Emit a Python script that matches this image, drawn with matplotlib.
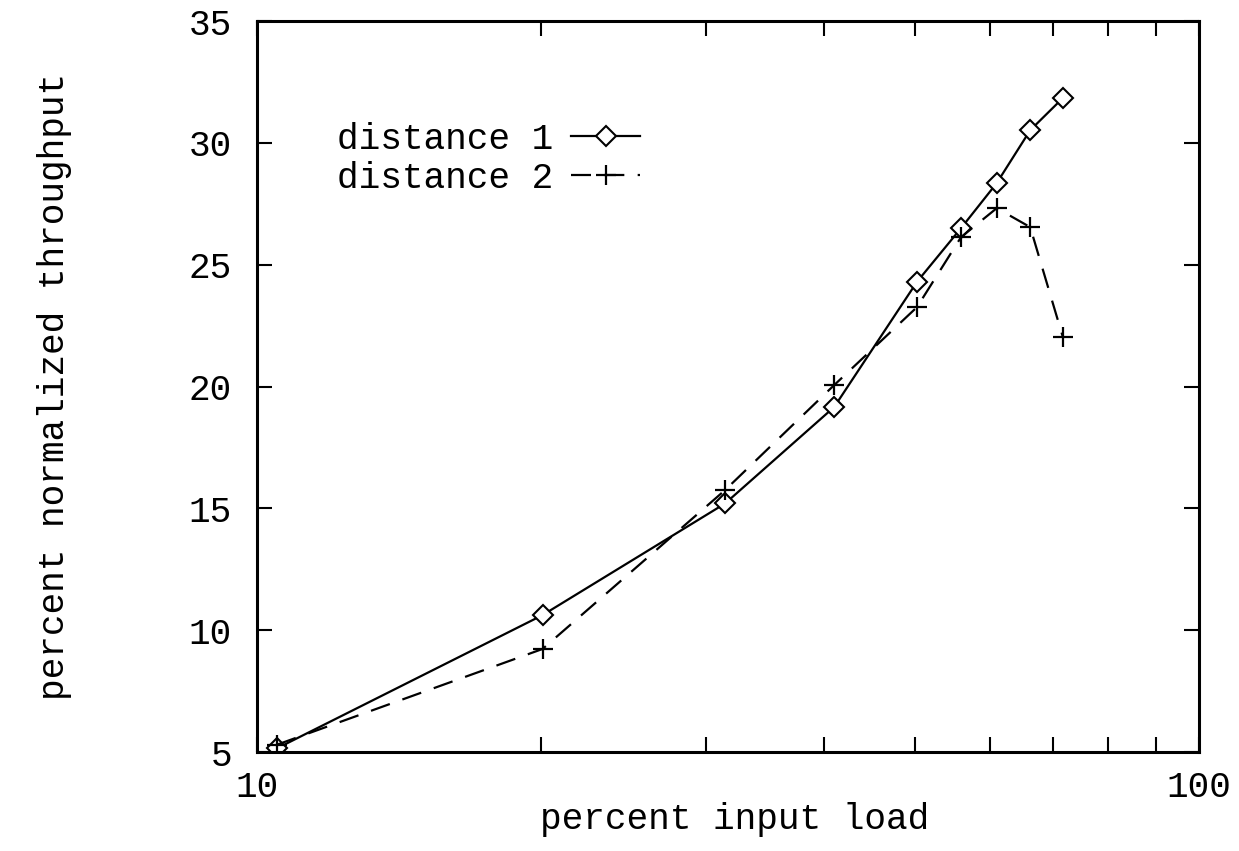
import matplotlib.pyplot as plt
from matplotlib.ticker import FixedLocator, NullFormatter, FixedFormatter

plt.rcParams['font.family'] = ['Liberation Mono', 'DejaVu Sans Mono']

# percent input load (x) and throughput for each distance
load = [10.5, 20.1, 31.4, 41.0, 50.2, 55.9, 61.0, 66.2, 71.7]
dist1 = [5.15, 10.62, 15.2, 19.16, 24.3, 26.5, 28.35, 30.52, 31.84]
dist2 = [5.3, 9.23, 15.75, 20.06, 23.26, 26.13, 27.32, 26.54, 22.03]

yticks = [5, 10, 15, 20, 25, 30, 35]
xticks = [10, 100]
xminor = [20, 30, 40, 50, 60, 70, 80, 90]

fs = 26

fig = plt.figure(figsize=(12.39, 8.51), dpi=100)
ax = fig.add_axes([0.2074, 0.1163, 0.7603, 0.859])

ax.plot(load, dist1, color='black', lw=1.6, marker='D', ms=10,
        mfc='white', mec='black', mew=1.5, label='distance 1')
ax.plot(load, dist2, color='black', lw=1.6, ls=(0, (9, 6)), marker='+',
        ms=15, mew=1.6, label='distance 2')

ax.set_xscale('log')
ax.set_xlim(10, 100)
ax.set_ylim(5, 35)
ax.xaxis.set_major_locator(FixedLocator(xticks))
ax.xaxis.set_major_formatter(FixedFormatter([str(v) for v in xticks]))
ax.xaxis.set_minor_locator(FixedLocator(xminor))
ax.xaxis.set_minor_formatter(NullFormatter())
ax.set_yticks(yticks)

ax.tick_params(which='both', direction='in', top=True, right=True,
               width=1.5, labelsize=fs)
ax.tick_params(which='major', length=11)
ax.tick_params(which='minor', length=11)
ax.tick_params(axis='y', pad=18)
ax.tick_params(axis='x', pad=13)

for s in ax.spines.values():
    s.set_linewidth(2.2)

ax.set_xlabel('percent input load', fontsize=fs)
ax.set_ylabel('percent normalized throughput', fontsize=fs)
ax.xaxis.set_label_coords(0.507, -0.068)
ax.yaxis.set_label_coords(-0.196, 0.5)

ax.legend(loc='upper left', bbox_to_anchor=(0.085, 0.862), frameon=False,
          borderaxespad=0, borderpad=0, markerfirst=False, fontsize=fs,
          handlelength=1.9, numpoints=1, handletextpad=0.5,
          labelspacing=0.1)

fig.savefig('out.png', dpi=100)
